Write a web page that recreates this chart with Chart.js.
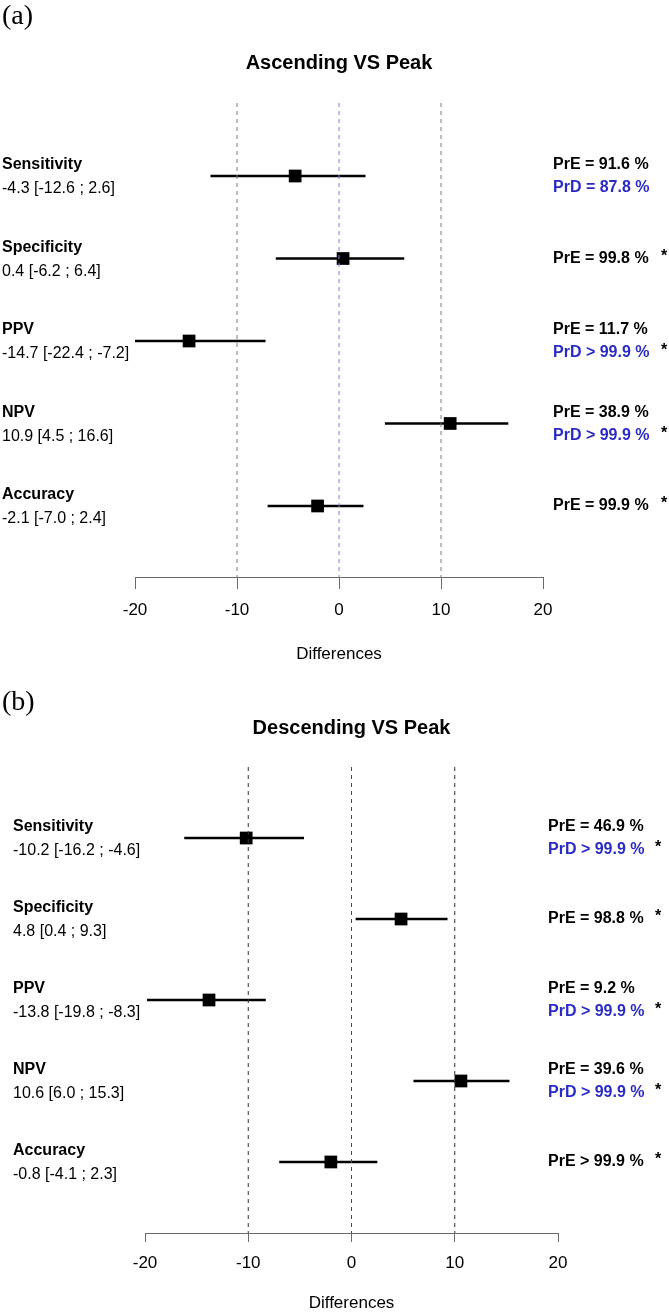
<!DOCTYPE html>
<html>
<head>
<meta charset="utf-8">
<script src="https://cdn.jsdelivr.net/npm/chart.js@4.4.1/dist/chart.umd.min.js"></script>
<style>
  body { margin: 0; background: #fff; }
  .panel { position: absolute; left: 0; width: 669px; }
  #panelA { top: 0; height: 668px; }
  #panelB { top: 668px; height: 646px; }
  .tag { position: absolute; left: 2px; font-family: 'Liberation Serif', 'Times New Roman', serif; font-size: 28px; color: #000; }
</style>
</head>
<body>
<div class="panel" id="panelA"><canvas id="chartA"></canvas></div>
<div class="panel" id="panelB"><canvas id="chartB"></canvas></div>
<div class="tag" style="top:-1px">(a)</div>
<div class="tag" style="top:685px">(b)</div>
<script>
// rows, top to bottom
const categories = ['Sensitivity', 'Specificity', 'PPV', 'NPV', 'Accuracy'];
const xTicks = [-20, -10, 0, 10, 20];
const refLines = [-10, 0, 10];

// Ascending VS Peak
const ascEst = [-4.3, 0.4, -14.7, 10.9, -2.1];
const ascLow = [-12.6, -6.2, -22.4, 4.5, -7.0];
const ascHigh = [2.6, 6.4, -7.2, 16.6, 2.4];
const ascText = ['-4.3 [-12.6 ; 2.6]', '0.4 [-6.2 ; 6.4]', '-14.7 [-22.4 ; -7.2]', '10.9 [4.5 ; 16.6]', '-2.1 [-7.0 ; 2.4]'];
const ascPrE = ['PrE = 91.6 %', 'PrE = 99.8 %', 'PrE = 11.7 %', 'PrE = 38.9 %', 'PrE = 99.9 %'];
const ascPrD = ['PrD = 87.8 %', null, 'PrD > 99.9 %', 'PrD > 99.9 %', null];
const ascStar = [false, true, true, true, true];

// Descending VS Peak (accuracy mark is drawn where the picture shows it)
const descEst = [-10.2, 4.8, -13.8, 10.6, -2.0];
const descLow = [-16.2, 0.4, -19.8, 6.0, -7.0];
const descHigh = [-4.6, 9.3, -8.3, 15.3, 2.5];
const descText = ['-10.2 [-16.2 ; -4.6]', '4.8 [0.4 ; 9.3]', '-13.8 [-19.8 ; -8.3]', '10.6 [6.0 ; 15.3]', '-0.8 [-4.1 ; 2.3]'];
const descPrE = ['PrE = 46.9 %', 'PrE = 98.8 %', 'PrE = 9.2 %', 'PrE = 39.6 %', 'PrE > 99.9 %'];
const descPrD = ['PrD > 99.9 %', null, 'PrD > 99.9 %', 'PrD > 99.9 %', null];
const descStar = [true, true, true, true, true];

const FONT = "'Liberation Sans', Arial, sans-serif";
const BLUE_TEXT = '#2a2ac6';

// draws title, row labels and probabilities next to the rows
const textPlugin = {
    id: 'forestText',
    afterDraw(chart) {
        const o = chart.options.plugins.forestText;
        const ctx = chart.ctx;
        const ys = chart.scales.y;
        const area = chart.chartArea;
        ctx.save();
        ctx.textBaseline = 'middle';
        ctx.fillStyle = '#000';
        ctx.textAlign = 'center';
        ctx.font = 'bold 20px ' + FONT;
        ctx.fillText(o.title, (area.left + area.right) / 2, o.titleY);

        ctx.textAlign = 'left';
        categories.forEach((cat, i) => {
            const y = ys.getPixelForValue(i + 1);
            ctx.fillStyle = '#000';
            ctx.font = 'bold 16px ' + FONT;
            ctx.fillText(cat, o.leftX, y - 11);
            ctx.font = '16px ' + FONT;
            ctx.fillText(o.text[i], o.leftX, y + 13);

            ctx.font = 'bold 16px ' + FONT;
            let starY;
            if (o.prd[i]) {
                ctx.fillStyle = '#000';
                ctx.fillText(o.pre[i], o.rightX, y - 11);
                ctx.fillStyle = BLUE_TEXT;
                ctx.fillText(o.prd[i], o.rightX, y + 12);
                starY = y + 12;
            } else {
                ctx.fillStyle = '#000';
                ctx.fillText(o.pre[i], o.rightX, y);
                starY = y;
            }
            if (o.star[i]) {
                ctx.fillStyle = '#000';
                ctx.fillText('*', o.starX, starY - 2);
            }
        });

        ctx.fillStyle = '#000';
        ctx.textAlign = 'center';
        ctx.font = '17px ' + FONT;
        ctx.fillText('Differences', (area.left + area.right) / 2, area.bottom + o.xlabelGap);
        ctx.restore();
    }
};

function makeChart(id, cfg) {
    const datasets = [];
    refLines.forEach(v => {
        datasets.push({
            data: [{ x: v, y: cfg.yMin }, { x: v, y: cfg.yMax }],
            showLine: true,
            borderColor: v === 0 ? cfg.zeroColor : cfg.refColor,
            borderWidth: 1,
            borderDash: [4, 4],
            pointRadius: 0
        });
    });
    categories.forEach((c, i) => {
        datasets.push({
            data: [{ x: cfg.low[i], y: i + 1 }, { x: cfg.high[i], y: i + 1 }],
            showLine: true,
            borderColor: '#000',
            borderWidth: 2.6,
            pointRadius: 0
        });
    });
    datasets.push({
        data: cfg.est.map((v, i) => ({ x: v, y: i + 1 })),
        pointStyle: 'rect',
        pointRadius: 9,
        backgroundColor: '#000',
        borderColor: '#000',
        borderWidth: 0
    });

    return new Chart(document.getElementById(id), {
        type: 'scatter',
        data: { datasets: datasets },
        options: {
            responsive: true,
            maintainAspectRatio: false,
            animation: false,
            layout: { padding: cfg.padding },
            plugins: {
                legend: { display: false },
                tooltip: { enabled: false },
                forestText: cfg.text
            },
            scales: {
                x: {
                    type: 'linear',
                    min: -20,
                    max: 20,
                    afterBuildTicks: (scale) => { scale.ticks = xTicks.map(v => ({ value: v })); },
                    afterFit: (scale) => { scale.height = cfg.axisHeight; },
                    grid: { display: true, drawOnChartArea: false, drawTicks: true, tickLength: cfg.tickLength, color: '#6a6a6a', lineWidth: 1 },
                    border: { display: true, color: '#6a6a6a', width: 1 },
                    ticks: { color: '#000', font: { family: FONT, size: 17 }, padding: cfg.tickPad }
                },
                y: {
                    type: 'linear',
                    display: false,
                    reverse: true,
                    min: cfg.yMin,
                    max: cfg.yMax
                }
            }
        },
        plugins: [textPlugin]
    });
}

makeChart('chartA', {
    est: ascEst, low: ascLow, high: ascHigh,
    yMin: 0.115, yMax: 5.861,
    padding: { left: 135, right: 126, top: 103, bottom: 0 },
    axisHeight: 91, tickLength: 12, tickPad: 11,
    refColor: '#7a7a7a', zeroColor: '#8080dd',
    text: {
        title: 'Ascending VS Peak', titleY: 63,
        text: ascText, pre: ascPrE, prd: ascPrD, star: ascStar,
        leftX: 2, rightX: 553, starX: 661, xlabelGap: 77
    }
});

makeChart('chartB', {
    est: descEst, low: descLow, high: descHigh,
    yMin: 0.123, yMax: 5.877,
    padding: { left: 145, right: 111, top: 99, bottom: 0 },
    axisHeight: 81, tickLength: 9, tickPad: 11,
    refColor: '#303030', zeroColor: '#3a3acc',
    text: {
        title: 'Descending VS Peak', titleY: 60,
        text: descText, pre: descPrE, prd: descPrD, star: descStar,
        leftX: 13, rightX: 548, starX: 655, xlabelGap: 70
    }
});
</script>
</body>
</html>
